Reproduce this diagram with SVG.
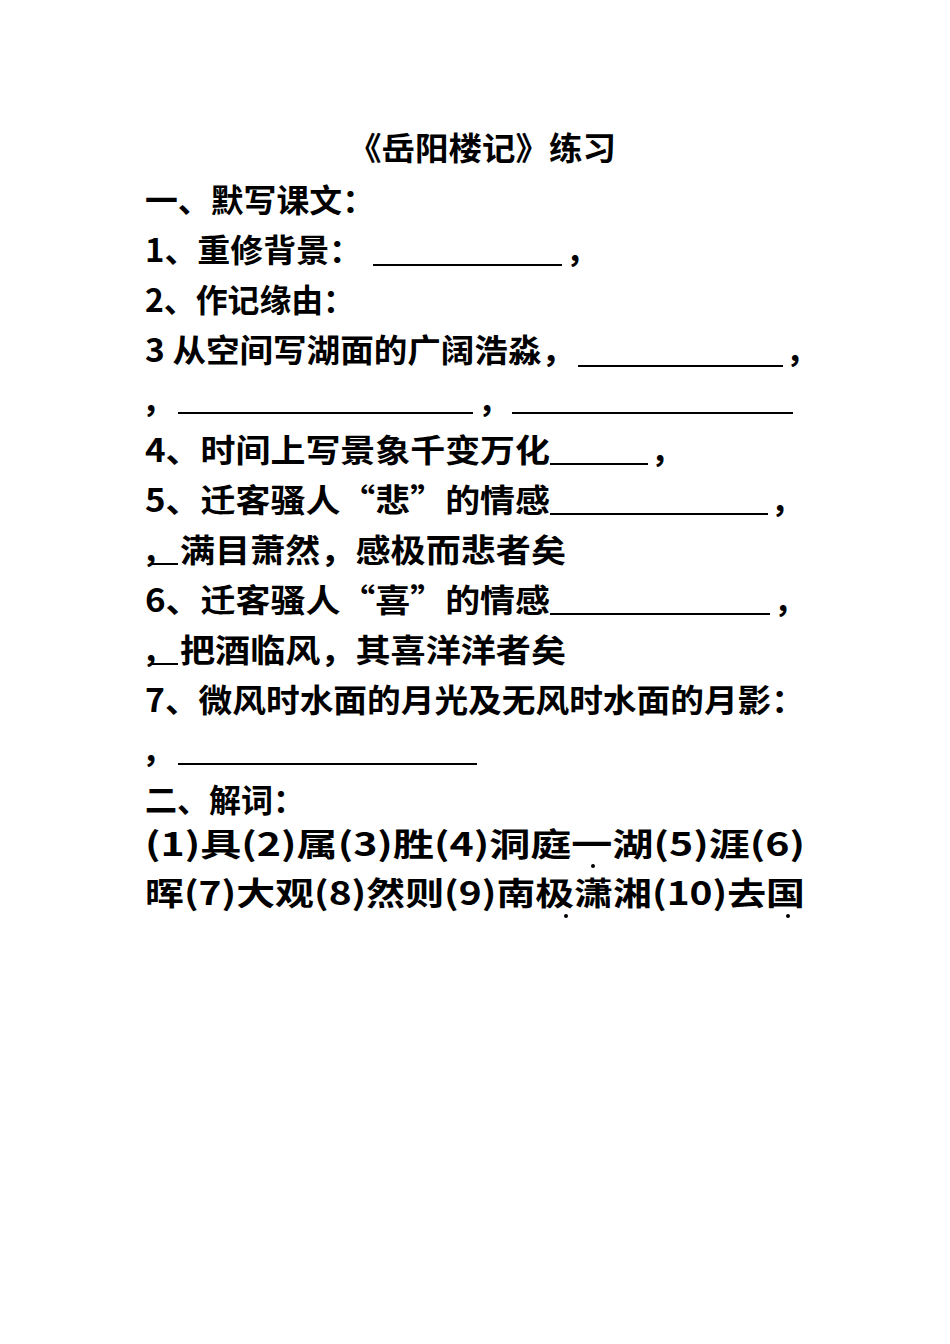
<svg xmlns="http://www.w3.org/2000/svg" width="950" height="1344" viewBox="0 0 950 1344">
<style>
text{font-family:"Noto Sans CJK SC","Liberation Sans",sans-serif;font-weight:bold;font-size:32px;fill:#000}
line{stroke:#000;stroke-width:2}
</style>
<rect width="950" height="1344" fill="#fff"/>
<text x="482" y="160" text-anchor="middle" textLength="268" lengthAdjust="spacingAndGlyphs">《岳阳楼记》练习</text>
<text x="145" y="212" textLength="230" lengthAdjust="spacingAndGlyphs">一、默写课文：</text>
<text x="145" y="262" textLength="217" lengthAdjust="spacingAndGlyphs">1、重修背景：</text>
<line x1="373" y1="265" x2="562" y2="265"/>
<text x="566" y="262">，</text>
<text x="145" y="312" textLength="210" lengthAdjust="spacingAndGlyphs">2、作记缘由：</text>
<text x="145" y="362" textLength="430" lengthAdjust="spacingAndGlyphs">3 从空间写湖面的广阔浩淼，</text>
<line x1="578" y1="366" x2="783" y2="366"/>
<text x="786" y="362">，</text>
<text x="142" y="412">，</text>
<line x1="178" y1="413" x2="473" y2="413"/>
<text x="478" y="412">，</text>
<line x1="512" y1="413" x2="793" y2="413"/>
<text x="145" y="462" textLength="405" lengthAdjust="spacingAndGlyphs">4、时间上写景象千变万化</text>
<line x1="550" y1="464" x2="648" y2="464"/>
<text x="651" y="462">，</text>
<text x="145" y="512" textLength="405" lengthAdjust="spacingAndGlyphs">5、迁客骚人“悲”的情感</text>
<line x1="550" y1="514" x2="768" y2="514"/>
<text x="771" y="512">，</text>
<text x="142" y="562">，</text>
<line x1="150" y1="564" x2="178" y2="564"/>
<text x="180" y="562" textLength="386" lengthAdjust="spacingAndGlyphs">满目萧然，感极而悲者矣</text>
<text x="145" y="612" textLength="405" lengthAdjust="spacingAndGlyphs">6、迁客骚人“喜”的情感</text>
<line x1="550" y1="614" x2="770" y2="614"/>
<text x="774" y="612">，</text>
<text x="142" y="662">，</text>
<line x1="150" y1="664" x2="178" y2="664"/>
<text x="180" y="662" textLength="386" lengthAdjust="spacingAndGlyphs">把酒临风，其喜洋洋者矣</text>
<text x="145" y="712" textLength="660" lengthAdjust="spacingAndGlyphs">7、微风时水面的月光及无风时水面的月影：</text>
<text x="142" y="762">，</text>
<line x1="178" y1="764" x2="477" y2="764"/>
<text x="145" y="812" textLength="160" lengthAdjust="spacingAndGlyphs">二、解词：</text>
<text x="145" y="856" textLength="660" lengthAdjust="spacingAndGlyphs">(1)具(2)属(3)胜(4)洞庭一湖(5)涯(6)</text>
<text x="145" y="905" textLength="660" lengthAdjust="spacingAndGlyphs">晖(7)大观(8)然则(9)南极潇湘(10)去国</text>
<circle cx="593" cy="866" r="2"/>
<circle cx="566" cy="916" r="2"/>
<circle cx="788" cy="916" r="2"/>
</svg>
